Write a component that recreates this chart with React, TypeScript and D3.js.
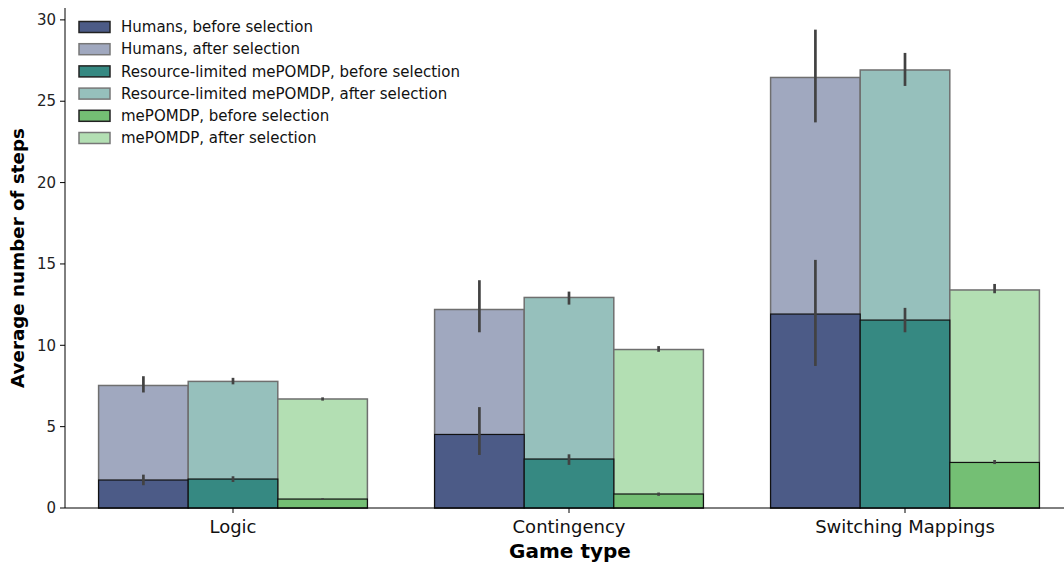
import React from 'react';
import * as d3 from 'd3';

const games = ['Logic', 'Contingency', 'Switching Mappings'];
const agents = ['Humans', 'Resource-limited mePOMDP', 'mePOMDP'];

// rows follow agents, columns follow games
const beforeMeans = [
  [1.72, 4.52, 11.92],
  [1.78, 3.01, 11.55],
  [0.55, 0.86, 2.8],
];
const beforeLow = [
  [1.4, 3.26, 8.73],
  [1.6, 2.65, 10.8],
  [0.5, 0.75, 2.7],
];
const beforeHigh = [
  [2.05, 6.2, 15.25],
  [1.95, 3.3, 12.3],
  [0.6, 0.95, 2.95],
];
const afterMeans = [
  [7.53, 12.2, 26.46],
  [7.78, 12.94, 26.92],
  [6.7, 9.74, 13.4],
];
const afterLow = [
  [7.1, 10.8, 23.7],
  [7.6, 12.5, 25.94],
  [6.6, 9.6, 13.2],
];
const afterHigh = [
  [8.1, 14.0, 29.4],
  [8.0, 13.3, 27.97],
  [6.8, 9.95, 13.77],
];
const yTicks = [0, 5, 10, 15, 20, 25, 30];

const darkColors = ['#4c5b87', '#368982', '#74bf74'];
const lightColors = ['#a0a8bf', '#96c0bc', '#b3dfb3'];

const App = () => {
  const width = 1064;
  const height = 562;
  const margin = { top: 8, right: -9, bottom: 54, left: 65 };
  const font = 'DejaVu Sans, sans-serif';

  const xScale = d3
    .scaleBand()
    .domain(games)
    .range([margin.left, width - margin.right])
    .padding(0);

  // seaborn-style: the hue group fills 0.8 of each category slot
  const inner = d3
    .scaleBand()
    .domain(agents)
    .range([0, xScale.bandwidth()])
    .paddingOuter(0.375)
    .paddingInner(0);

  const yScale = d3
    .scaleLinear()
    .domain([0, 30.73])
    .range([height - margin.bottom, margin.top]);

  const y0 = yScale(0);

  const legendItems = agents.flatMap((a, i) => [
    { label: `${a}, before selection`, fill: darkColors[i], stroke: '#222' },
    { label: `${a}, after selection`, fill: lightColors[i], stroke: '#777' },
  ]);

  return (
    <svg
      width={width}
      height={height}
      viewBox={`0 0 ${width} ${height}`}
      style={{ position: 'absolute', left: 0, top: 0, background: '#fff' }}
      fontFamily={font}
    >
      {agents.map((a, ai) =>
        games.map((g, gi) => {
          const x = xScale(g)! + inner(a)!;
          const w = inner.bandwidth();
          const ya = yScale(afterMeans[ai][gi]);
          return (
            <rect
              key={`after-${ai}-${gi}`}
              x={x}
              y={ya}
              width={w}
              height={y0 - ya}
              fill={lightColors[ai]}
              stroke="#6f6f6f"
              strokeWidth={1.5}
            />
          );
        })
      )}
      {agents.map((a, ai) =>
        games.map((g, gi) => {
          const x = xScale(g)! + inner(a)!;
          const w = inner.bandwidth();
          const yb = yScale(beforeMeans[ai][gi]);
          return (
            <rect
              key={`before-${ai}-${gi}`}
              x={x}
              y={yb}
              width={w}
              height={y0 - yb}
              fill={darkColors[ai]}
              stroke="#111"
              strokeWidth={1.2}
            />
          );
        })
      )}
      {agents.map((a, ai) =>
        games.map((g, gi) => {
          const cx = xScale(g)! + inner(a)! + inner.bandwidth() / 2;
          return (
            <g key={`err-${ai}-${gi}`} stroke="#424242" strokeWidth={2.7}>
              <line x1={cx} x2={cx} y1={yScale(afterLow[ai][gi])} y2={yScale(afterHigh[ai][gi])} />
              <line x1={cx} x2={cx} y1={yScale(beforeLow[ai][gi])} y2={yScale(beforeHigh[ai][gi])} />
            </g>
          );
        })
      )}

      {/* axes */}
      <line x1={margin.left} x2={margin.left} y1={margin.top} y2={y0} stroke="#000" strokeWidth={1} />
      <line x1={margin.left} x2={width} y1={y0} y2={y0} stroke="#000" strokeWidth={1} />
      {yTicks.map(t => (
        <g key={`yt-${t}`} transform={`translate(${margin.left}, ${yScale(t)})`}>
          <line x1={-5} x2={0} stroke="#000" />
          <text x={-9} dy="0.35em" textAnchor="end" fontSize={15} fill="#222">
            {t}
          </text>
        </g>
      ))}
      {games.map(g => (
        <g key={`xt-${g}`} transform={`translate(${xScale(g)! + xScale.bandwidth() / 2}, ${y0})`}>
          <line y1={0} y2={5} stroke="#000" />
          <text y={25} textAnchor="middle" fontSize={18} fill="#111">
            {g}
          </text>
        </g>
      ))}
      <text
        transform={`translate(24, ${(margin.top + y0) / 2}) rotate(-90)`}
        textAnchor="middle"
        fontSize={18.3}
        fontWeight="bold"
      >
        Average number of steps
      </text>
      <text x={570} y={558} textAnchor="middle" fontSize={20} fontWeight="bold">
        Game type
      </text>

      {/* legend */}
      {legendItems.map((d, i) => (
        <g key={`lg-${i}`} transform={`translate(79, ${27 + i * 22.2})`}>
          <rect x={0} y={-5.5} width={31} height={11} fill={d.fill} stroke={d.stroke} strokeWidth={1.5} />
          <text x={42} dy="0.35em" fontSize={15} fill="#111">
            {d.label}
          </text>
        </g>
      ))}
    </svg>
  );
};

export default App;
